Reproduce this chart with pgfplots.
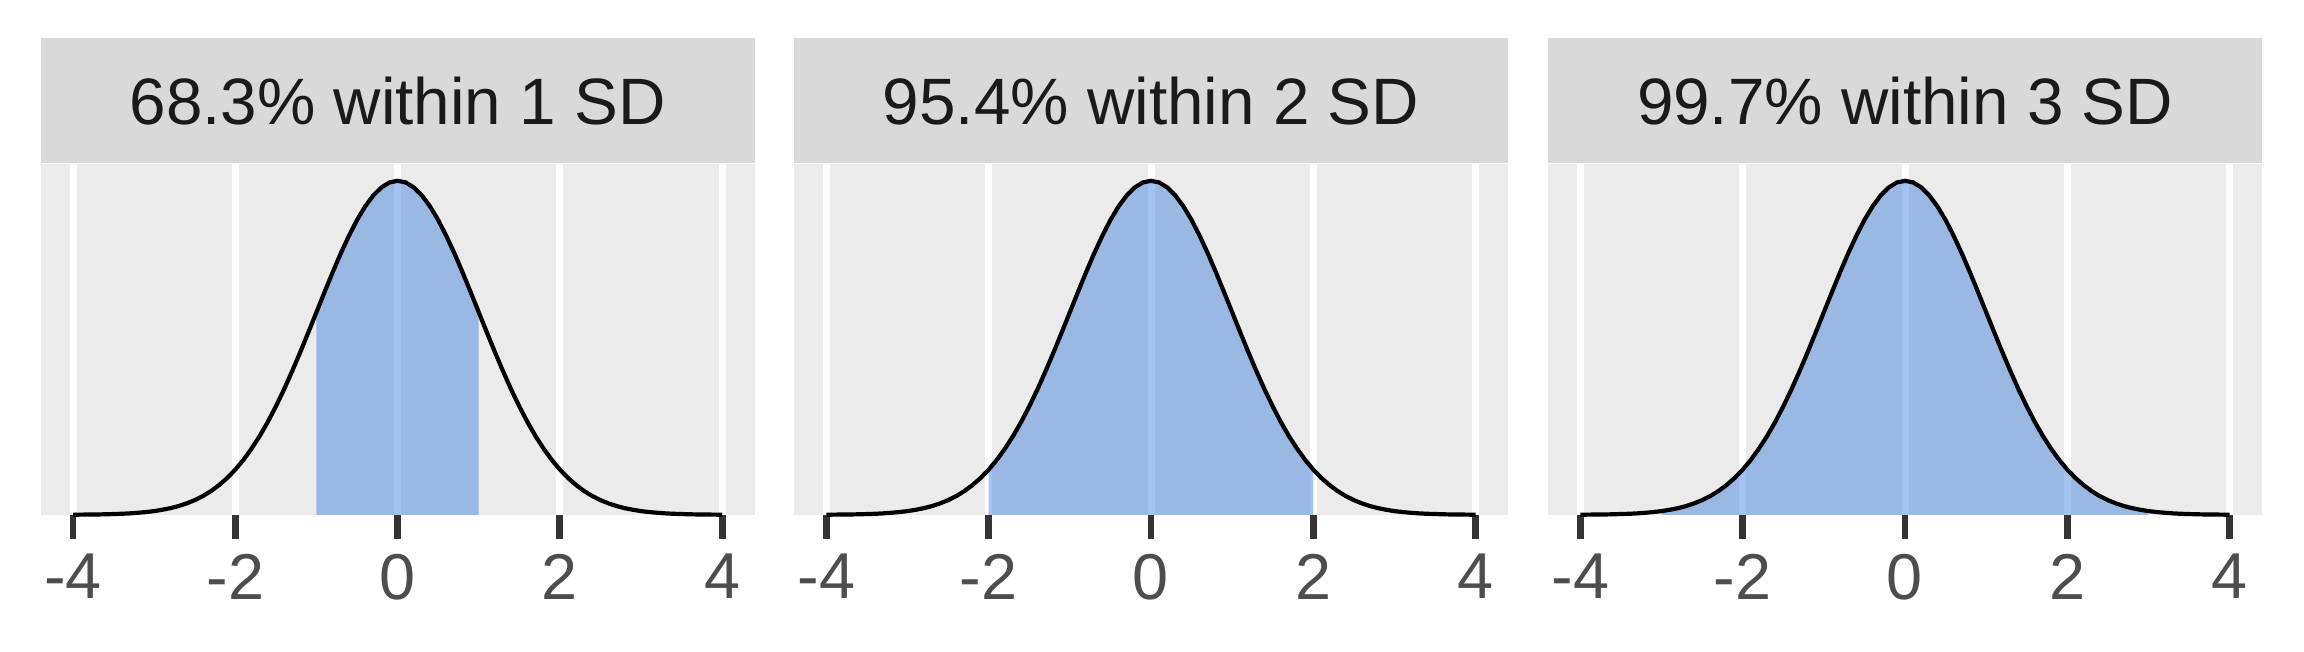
\documentclass[border=0pt]{standalone}
\usepackage{pgfplots}
\pgfplotsset{compat=1.18}
\usepackage{pgfplotstable}
\usepackage{fontspec}
\setmainfont{Liberation Sans}

\definecolor{panelgrey}{HTML}{EBEBEB}
\definecolor{stripgrey}{HTML}{D9D9D9}
\definecolor{tickgrey}{HTML}{333333}
\definecolor{labelgrey}{HTML}{4D4D4D}
\definecolor{textgrey}{HTML}{1A1A1A}
\definecolor{areablue}{RGB}{55,126,220}

% standard normal density, read at steps of 0.1
\pgfplotstableread{
x y
-4.0 0.0001
-3.9 0.0002
-3.8 0.0003
-3.7 0.0004
-3.6 0.0006
-3.5 0.0009
-3.4 0.0012
-3.3 0.0017
-3.2 0.0024
-3.1 0.0033
-3.0 0.0044
-2.9 0.0060
-2.8 0.0079
-2.7 0.0104
-2.6 0.0136
-2.5 0.0175
-2.4 0.0224
-2.3 0.0283
-2.2 0.0355
-2.1 0.0440
-2.0 0.0540
-1.9 0.0656
-1.8 0.0790
-1.7 0.0940
-1.6 0.1109
-1.5 0.1295
-1.4 0.1497
-1.3 0.1714
-1.2 0.1942
-1.1 0.2179
-1.0 0.2420
-0.9 0.2661
-0.8 0.2897
-0.7 0.3123
-0.6 0.3332
-0.5 0.3521
-0.4 0.3683
-0.3 0.3814
-0.2 0.3910
-0.1 0.3970
0.0 0.3989
0.1 0.3970
0.2 0.3910
0.3 0.3814
0.4 0.3683
0.5 0.3521
0.6 0.3332
0.7 0.3123
0.8 0.2897
0.9 0.2661
1.0 0.2420
1.1 0.2179
1.2 0.1942
1.3 0.1714
1.4 0.1497
1.5 0.1295
1.6 0.1109
1.7 0.0940
1.8 0.0790
1.9 0.0656
2.0 0.0540
2.1 0.0440
2.2 0.0355
2.3 0.0283
2.4 0.0224
2.5 0.0175
2.6 0.0136
2.7 0.0104
2.8 0.0079
2.9 0.0060
3.0 0.0044
3.1 0.0033
3.2 0.0024
3.3 0.0017
3.4 0.0012
3.5 0.0009
3.6 0.0006
3.7 0.0004
3.8 0.0003
3.9 0.0002
4.0 0.0001
}\dens

\pgfplotsset{
  facet/.style={
    scale only axis,
    width=178.5pt, height=87.7pt,
    anchor=south west,
    xmin=-4.4, xmax=4.4, ymin=0, ymax=0.419,
    clip=false,
    axis background/.style={fill=panelgrey},
    axis line style={draw=none},
    xtick={-4,-2,0,2,4},
    xticklabels={-4,-2,0,2,4},
    ytick=\empty,
    xtick pos=bottom,
    tick align=outside,
    major tick length=6pt,
    tick style={draw=tickgrey, line width=1.7pt},
    xmajorgrids,
    grid style={white, line width=1.75pt},
    xticklabel style={text=labelgrey, font=\fontsize{16.2}{19}\selectfont, inner sep=0pt, yshift=-3.6pt},
    every axis title/.style={at={(0.5,1)}, anchor=south, fill=stripgrey,
      minimum width=178.5pt, minimum height=31.25pt, inner sep=0pt,
      text=textgrey, font=\fontsize{16.4}{20}\selectfont},
  },
  area/.style={draw=none, fill=areablue, fill opacity=0.45},
  curve/.style={black, line width=1.05pt},
}

\begin{document}
\begin{tikzpicture}
\path[use as bounding box] (0,0) rectangle (576pt,163pt);

\begin{axis}[facet, at={(10.15pt,34.3pt)}, title={68.3\% within 1 SD}]
  \addplot[area, restrict x to domain=-1.001:1.001] table[x=x, y=y] {\dens} \closedcycle;
  \addplot[curve] table[x=x, y=y] {\dens};
\end{axis}

\begin{axis}[facet, at={(198.5pt,34.3pt)}, title={95.4\% within 2 SD}]
  \addplot[area, restrict x to domain=-2.001:2.001] table[x=x, y=y] {\dens} \closedcycle;
  \addplot[curve] table[x=x, y=y] {\dens};
\end{axis}

\begin{axis}[facet, at={(387pt,34.3pt)}, title={99.7\% within 3 SD}]
  \addplot[area, restrict x to domain=-3.001:3.001] table[x=x, y=y] {\dens} \closedcycle;
  \addplot[curve] table[x=x, y=y] {\dens};
\end{axis}
\end{tikzpicture}
\end{document}
